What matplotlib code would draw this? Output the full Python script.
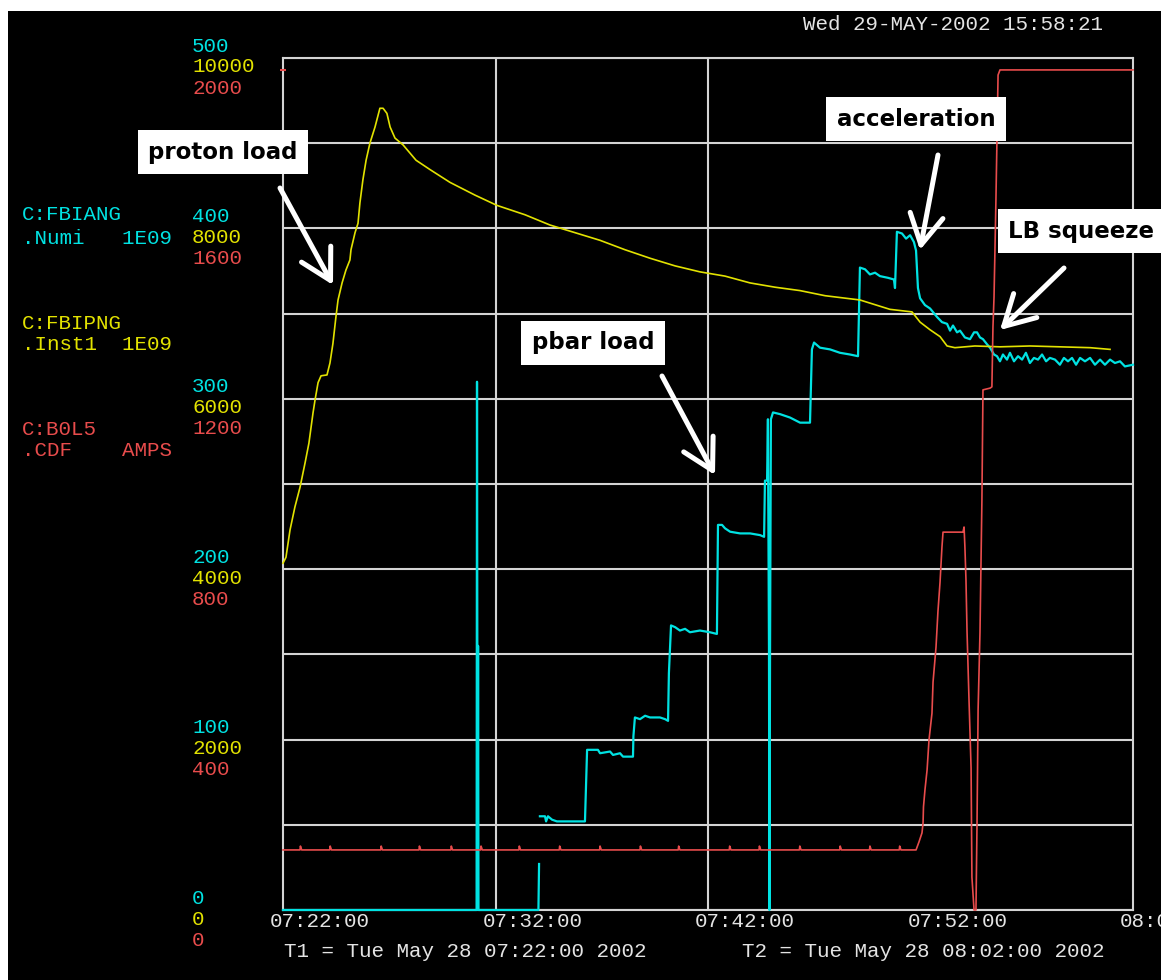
import numpy as np
import matplotlib
matplotlib.use("Agg")
import matplotlib.pyplot as plt
from matplotlib.patches import Rectangle
from matplotlib.transforms import offset_copy

# ---------------------------------------------------------------------------
# Data: time in minutes after T1 (07:22:00)
# C:FBIANG  pbar intensity (1E09), scale 0-500
cyan_t = [0.00, 9.11, 9.13, 9.16, 9.18, 9.20, 12.02, 12.05, np.nan,
          12.09, 12.33, 12.38, 12.47, 12.66, 12.89, 14.21, 14.26, 14.31,
          14.82, 14.92, 15.39, 15.53, 15.86, 16.00, 16.47, 16.49, 16.56,
          16.80, 17.04, 17.27, 17.74, 17.98, 18.12, 18.16, 18.26, 18.45,
          18.68, 18.92, 19.15, 19.62, 20.09, 20.42, 20.47, 20.66, 20.80,
          21.04, 21.51, 21.98, 22.45, 22.64, 22.68, 22.78, 22.82, 22.87,
          22.89, 22.92, 22.96, 23.06, 23.39, 23.86, 24.33, 24.80, 24.89,
          24.99, 25.27, 25.74, 26.21, 26.68, 27.06, 27.15, 27.39, 27.62,
          27.86, 28.09, 28.47, 28.75, 28.80, 28.89, 29.13, 29.32, 29.51,
          29.69, 29.79, 29.88, 29.98, 30.21, 30.45, 30.78, 31.01, 31.25,
          31.39, 31.53, 31.72, 31.86, 32.09, 32.33, 32.52, 32.66, 32.80,
          32.94, 33.13, 33.27, 33.46, 33.60, 33.74, 33.88, 34.07, 34.21,
          34.40, 34.59, 34.78, 34.96, 35.15, 35.34, 35.53, 35.72, 35.91,
          36.09, 36.33, 36.56, 36.75, 36.94, 37.13, 37.32, 37.51, 37.74,
          37.98, 38.21, 38.45, 38.68, 38.92, 39.15, 39.39, 39.62, 40.00]
cyan_v = [0, 0, 310, 0, 155, 0, 0, 27, np.nan,
          55, 55, 52, 55, 53, 52, 52, 72, 94,
          94, 92, 93, 91, 92, 90, 90, 102, 113,
          112, 114, 113, 113, 112, 111, 139, 167, 166,
          164, 165, 163, 164, 163, 162, 226, 226, 224,
          222, 221, 221, 220, 219, 252, 252, 288, 153,
          0, 153, 288, 292, 291, 289, 286, 286, 329,
          333, 330, 329, 327, 326, 325, 377, 376, 373,
          374, 372, 371, 370, 365, 398, 397, 394, 396,
          392, 387, 365, 359, 355, 353, 348, 345, 344,
          340, 343, 339, 340, 336, 335, 339, 339, 336,
          335, 332, 330, 326, 325, 322, 326, 323, 327,
          322, 325, 323, 327, 321, 324, 323, 326, 322,
          324, 323, 320, 324, 322, 324, 320, 324, 322,
          324, 320, 323, 320, 323, 321, 322, 319, 320]

# C:FBIPNG  proton intensity (1E09), scale 0-10000
yel_t = [0.00, 0.14, 0.33, 0.56, 0.80, 1.04, 1.22, 1.41, 1.51, 1.65,
         1.79, 2.07, 2.21, 2.35, 2.49, 2.59, 2.78, 2.96, 3.15, 3.20,
         3.39, 3.53, 3.62, 3.76, 3.91, 4.09, 4.33, 4.56, 4.71, 4.89,
         5.04, 5.27, 5.65, 6.26, 6.92, 7.86, 9.04, 10.07, 11.39, 12.56,
         13.74, 14.92, 16.09, 17.27, 18.45, 19.62, 20.80, 21.98, 23.15,
         24.33, 25.51, 27.15, 28.56, 29.60, 29.98, 30.45, 30.92, 31.25,
         31.62, 32.56, 33.74, 35.15, 36.56, 37.98, 38.92]
yel_v = [4070, 4140, 4460, 4730, 4960, 5250, 5480, 5830, 5990, 6190,
         6270, 6280, 6420, 6650, 6960, 7160, 7360, 7510, 7630, 7750,
         7950, 8060, 8300, 8570, 8800, 9000, 9190, 9410, 9410, 9350,
         9190, 9060, 8980, 8800, 8690, 8540, 8390, 8270, 8160, 8040,
         7950, 7860, 7750, 7650, 7560, 7490, 7440, 7360, 7310,
         7270, 7210, 7160, 7050, 7020, 6900, 6810, 6730, 6620,
         6600, 6620, 6610, 6620, 6610, 6600, 6580]

# C:B0L5  CDF low-beta quad current (AMPS), scale 0-2000
red_t = [0.00,
         0.80, 0.82, 0.88, 2.20, 2.22, 2.28, 4.60, 4.62, 4.68,
         6.40, 6.42, 6.48, 7.90, 7.92, 7.98, 9.30, 9.32, 9.38,
         11.10, 11.12, 11.18, 13.00, 13.02, 13.08, 14.90, 14.92, 14.98,
         16.80, 16.82, 16.88, 18.60, 18.62, 18.68, 21.00, 21.02, 21.08,
         22.40, 22.42, 22.48, 24.30, 24.32, 24.38, 26.20, 26.22, 26.28,
         27.60, 27.62, 27.68, 29.00, 29.02, 29.08,
         29.79, 29.93, 30.07, 30.12, 30.14, 30.21, 30.31, 30.40, 30.54,
         30.59, 30.73, 30.82, 30.92, 31.01, 31.06, 32.00, 32.05, 32.09,
         32.14, 32.19, 32.28, 32.38, 32.42, 32.52, 32.61, 32.66, 32.71,
         32.80, 32.89, 32.94, 33.27, 33.36, 33.41, 33.46, 33.55, 33.65,
         33.74, 40.00]
red_v = [141,
         141, 150, 141, 141, 150, 141, 141, 150, 141,
         141, 150, 141, 141, 150, 141, 141, 150, 141,
         141, 150, 141, 141, 150, 141, 141, 150, 141,
         141, 150, 141, 141, 150, 141, 141, 150, 141,
         141, 150, 141, 141, 150, 141, 141, 150, 141,
         141, 150, 141, 141, 150, 141,
         141, 160, 181, 204, 242, 282, 329, 399, 462,
         535, 617, 700, 770, 852, 887, 887, 899, 852,
         775, 653, 498, 333, 77, 0, 0, 204, 469,
         653, 962, 1221, 1225, 1228, 1369, 1439, 1667, 1960,
         1972, 1972]

cyan_ticks = [0, 100, 200, 300, 400, 500]
yel_ticks = [0, 2000, 4000, 6000, 8000, 10000]
red_ticks = [0, 400, 800, 1200, 1600, 2000]

time_ticks = [0, 10, 20, 30, 40]
time_labels = ["07:22:00", "07:32:00", "07:42:00", "07:52:00", "08:02:00"]

# ---------------------------------------------------------------------------
CYAN = "#00E2E2"
YELLOW = "#E2E200"
RED = "#E84C4C"
GRID = "#D4D4D4"
TXT = "#E4E4E4"
MONO = "Liberation Mono"
FS = 15

W, H = 1161, 980
fig = plt.figure(figsize=(W / 100, H / 100), dpi=100, facecolor="white")
fig.add_artist(Rectangle((8 / W, 0), 1, 1 - 11 / H, transform=fig.transFigure,
                         facecolor="black", edgecolor="none", zorder=-10))

ax = fig.add_axes([283 / W, 1 - 910 / H, 850 / W, 852 / H])
ax.set_facecolor("black")
ay = ax.twinx()
ar = ax.twinx()

ax.set_xlim(0, 40)
ax.set_ylim(0, 500)
ay.set_ylim(0, 10000)
ar.set_ylim(0, 2000)

ax.set_yticks(np.arange(0, 501, 50))
ax.set_xticks([10, 20])
ax.set_axisbelow(True)
ax.grid(True, color=GRID, lw=1.5)
ax.tick_params(length=0, labelleft=False, labelbottom=False)
for s in ax.spines.values():
    s.set_color(GRID)
    s.set_linewidth(1.5)
for a in (ay, ar):
    a.set_yticks([])
    a.tick_params(length=0, labelright=False)
    for s in a.spines.values():
        s.set_visible(False)

ax.plot(cyan_t, cyan_v, color=CYAN, lw=1.6, clip_on=False, zorder=3)
ay.plot(yel_t, yel_v, color=YELLOW, lw=1.2, clip_on=False)
ar.plot(red_t, red_v, color=RED, lw=1.2, clip_on=False)
# current-value marker on the left frame
ar.plot([red_t[0]], [red_v[-1]], marker="_", ms=5, mew=1.5, color=RED, clip_on=False)

# stacked tick labels for the three scales
lab_x = (192 - 283) / 850
for axis, ticks, col, dy in ((ax, cyan_ticks, CYAN, 12),
                             (ay, yel_ticks, YELLOW, -9),
                             (ar, red_ticks, RED, -30)):
    tr = offset_copy(axis.get_yaxis_transform(), fig=fig, y=dy, units="dots")
    for v in ticks:
        axis.text(lab_x, v, str(v), transform=tr, color=col, family=MONO,
                  fontsize=FS, ha="left", va="center", clip_on=False)

# time labels
trx = offset_copy(ax.get_xaxis_transform(), fig=fig, x=-13, y=-11, units="dots")
for t, lab in zip(time_ticks, time_labels):
    ax.text(t, 0, lab, transform=trx, color=TXT, family=MONO, fontsize=FS,
            ha="left", va="center", clip_on=False)

# device names
def ftext(x, y, s, col, **kw):
    fig.text(x / W, 1 - y / H, s, color=col, family=MONO, fontsize=FS,
             ha="left", va="center", **kw)

ftext(22, 215, "C:FBIANG", CYAN)
ftext(22, 238, ".Numi   1E09", CYAN)
ftext(22, 323, "C:FBIPNG", YELLOW)
ftext(22, 345, ".Inst1  1E09", YELLOW)
ftext(22, 429, "C:B0L5", RED)
ftext(22, 450, ".CDF    AMPS", RED)

ftext(803, 24, "Wed 29-MAY-2002 15:58:21", TXT)
ftext(284, 951, "T1 = Tue May 28 07:22:00 2002", TXT)
ftext(742, 951, "T2 = Tue May 28 08:02:00 2002", TXT)

# callouts
box = dict(boxstyle="square,pad=0.45", fc="white", ec="none")
def callout(x, y, s, ha="center"):
    fig.text(x / W, 1 - y / H, s, ha=ha, va="center", fontsize=16.5,
             fontweight="bold", family="DejaVu Sans", color="black",
             bbox=box, zorder=10)

callout(223, 152, "proton load")
callout(916, 119, "acceleration")
callout(1008, 231, "LB squeeze", ha="left")
callout(593, 343, "pbar load")

arrows = [((280, 188), (333, 285)),
          ((938, 155), (920, 250)),
          ((1064, 268), (1000, 330)),
          ((662, 376), (715, 475))]
for (x0, y0), (x1, y1) in arrows:
    ar.annotate("", xy=(x1, H - y1), xycoords="figure pixels",
                xytext=(x0, H - y0), textcoords="figure pixels",
                arrowprops=dict(arrowstyle="->,head_length=0.9,head_width=0.5",
                                color="white", lw=3.6, mutation_scale=24,
                                shrinkA=0, shrinkB=0),
                annotation_clip=False, zorder=10)

fig.savefig("out.png", dpi=100, facecolor=fig.get_facecolor())
